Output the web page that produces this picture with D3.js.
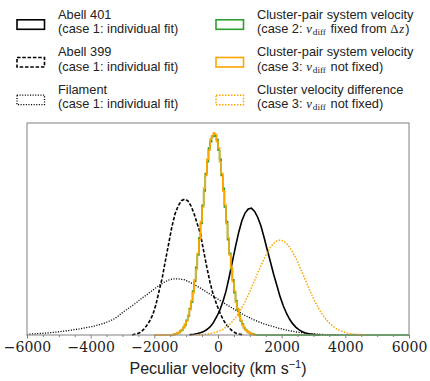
<!DOCTYPE html>
<html><head><meta charset="utf-8">
<script src="https://cdn.jsdelivr.net/npm/d3@7"></script>
<style>body{margin:0;background:#fff} svg{display:block}</style>
</head><body>
<svg id="chart" width="430" height="381"></svg>
<script>
// ---------- data (normalised histogram heights) ----------
const xTicks = [-6000, -4000, -2000, 0, 2000, 4000, 6000];
const xMinorTicks = [-5500,-5000,-4500,-3500,-3000,-2500,-1500,-1000,-500,500,1000,1500,2500,3000,3500,4500,5000,5500];
const xLabel = "Peculiar velocity (km s";

// Abell 401 (case 1) – first bin left edge, 100 km/s bins
const a401Start = -900;
const a401Values = [0.002,0.004,0.007,0.011,0.017,0.027,0.040,0.060,0.088,0.120,
  0.163,0.216,0.286,0.362,0.438,0.508,0.566,0.604,0.624,0.628,
  0.612,0.582,0.540,0.482,0.420,0.360,0.300,0.245,0.190,0.145,
  0.108,0.078,0.055,0.038,0.025,0.016,0.010,0.006,0.004,0.002,0.001];

// Abell 399 (case 1), 100 km/s bins
const a399Start = -2700;
const a399Values = [0.002,0.006,0.012,0.025,0.045,0.068,0.100,0.150,0.218,0.285,
  0.370,0.452,0.535,0.600,0.640,0.665,0.673,0.665,0.640,0.600,
  0.550,0.500,0.415,0.335,0.260,0.200,0.155,0.113,0.080,0.053,
  0.035,0.020,0.010,0.005,0.002];

// Filament (case 1), 100 km/s bins
const filStart = -6000;
const filValues = [0.004,0.005,0.006,0.007,0.008,0.009,0.010,0.012,0.013,0.015,
  0.017,0.019,0.021,0.023,0.025,0.028,0.030,0.033,0.036,0.039,
  0.042,0.046,0.050,0.055,0.060,0.066,0.073,0.081,0.092,0.105,
  0.117,0.128,0.139,0.150,0.162,0.175,0.187,0.198,0.210,0.222,
  0.234,0.245,0.255,0.265,0.272,0.277,0.278,0.278,0.276,0.273,
  0.266,0.258,0.250,0.241,0.232,0.222,0.212,0.202,0.193,0.183,
  0.172,0.162,0.152,0.143,0.133,0.124,0.115,0.106,0.097,0.089,
  0.081,0.074,0.067,0.061,0.055,0.050,0.045,0.041,0.036,0.032,
  0.028,0.024,0.021,0.018,0.015,0.013,0.011,0.009,0.007,0.006,
  0.005,0.004,0.003,0.002,0.002,0.001,0.001,0.001];

// Cluster-pair system velocity (case 2), 50 km/s bins
const sys2Start = -1400;
const sys2Range = [-1400, 6000];
const sys2Values = [0.003,0.005,0.009,0.011,0.019,0.025,0.038,0.050,0.073,0.094,
  0.131,0.163,0.218,0.265,0.335,0.396,0.481,0.552,0.643,0.714,
  0.800,0.858,0.926,0.958,0.982,0.985,0.986,0.968,0.915,0.870,
  0.790,0.726,0.634,0.562,0.472,0.405,0.326,0.274,0.210,0.170,
  0.125,0.099,0.069,0.054,0.036,0.027,0.017,0.013,0.008,0.006,0.003];

// Cluster-pair system velocity (case 3), 50 km/s bins
const sys3Start = -1400;
const sys3Range = [-2000, 1200];
const sys3Values = [0.003,0.006,0.008,0.013,0.017,0.027,0.036,0.054,0.069,0.099,
  0.125,0.170,0.210,0.274,0.326,0.405,0.472,0.562,0.634,0.726,
  0.790,0.870,0.915,0.970,0.986,1.000,0.994,0.958,0.926,0.858,
  0.800,0.714,0.644,0.551,0.482,0.396,0.335,0.264,0.218,0.163,
  0.131,0.094,0.073,0.050,0.038,0.025,0.019,0.011,0.008,0.004,0.003];

// Cluster velocity difference (case 3), 100 km/s bins
const diffStart = -700;
const diffValues = [0.001,0.002,0.003,0.005,0.007,0.010,0.015,0.021,0.028,0.039,
  0.051,0.067,0.086,0.109,0.135,0.165,0.198,0.233,0.270,0.308,
  0.344,0.379,0.409,0.435,0.454,0.466,0.470,0.466,0.454,0.435,
  0.409,0.379,0.344,0.308,0.270,0.233,0.198,0.165,0.135,0.109,
  0.086,0.067,0.051,0.039,0.028,0.021,0.015,0.010,0.007,0.005,
  0.003,0.002,0.001,0.001];

// ---------- layout ----------
const svg = d3.select("#chart");
const plot = {left: 27, right: 409, top: 123, bottom: 335};
const x = d3.scaleLinear().domain([-6000, 6000]).range([plot.left, plot.right]);
const y = d3.scaleLinear().domain([0, 1.05]).range([plot.bottom, plot.top]);

const series = [
  {start: a401Start, bin: 100, values: a401Values, smooth: true, color: "#000", width: 1.6, dash: null,
   label: ["Abell 401", "(case 1: individual fit)"]},
  {start: a399Start, bin: 100, values: a399Values, smooth: true, color: "#000", width: 1.6, dash: "3.5,1.8",
   label: ["Abell 399", "(case 1: individual fit)"]},
  {start: filStart, bin: 100, values: filValues, smooth: true, color: "#000", width: 1.3, dash: "1.1,1.5",
   label: ["Filament", "(case 1: individual fit)"]},
  {start: sys2Start, bin: 50, values: sys2Values, range: sys2Range, color: "#2ca02c", width: 1.6, dash: null,
   label: ["Cluster-pair system velocity", "(case 2:|@|fixed from|#)"]},
  {start: sys3Start, bin: 50, values: sys3Values, range: sys3Range, color: "#ffa500", width: 1.6, dash: null,
   label: ["Cluster-pair system velocity", "(case 3:|@|not fixed)"]},
  {start: diffStart, bin: 100, values: diffValues, smooth: true, color: "#ffa500", width: 1.5, dash: "1.5,1.5",
   label: ["Cluster velocity difference", "(case 3:|@|not fixed)"]}
];

function stepPoints(s) {
  const pts = [];
  const end = s.start + s.values.length * s.bin;
  if (s.range && s.range[0] < s.start) pts.push([s.range[0], 0]);
  pts.push([s.start, 0]);
  if (s.smooth) {
    s.values.forEach((v, i) => pts.push([s.start + (i + 0.5) * s.bin, v]));
  } else {
    s.values.forEach((v, i) => {
      pts.push([s.start + i * s.bin, v]);
      pts.push([s.start + (i + 1) * s.bin, v]);
    });
  }
  pts.push([end, 0]);
  if (s.range && s.range[1] > end) pts.push([s.range[1], 0]);
  return pts;
}
const line = d3.line().x(d => x(d[0])).y(d => y(d[1]));

const g = svg.append("g");
series.forEach(s => {
  g.append("path")
    .attr("d", line(stepPoints(s)))
    .attr("fill", "none")
    .attr("stroke", s.color)
    .attr("stroke-width", s.width)
    .attr("stroke-linejoin", "miter")
    .attr("stroke-dasharray", s.dash);
});

// frame
svg.append("rect")
  .attr("x", plot.left).attr("y", plot.top)
  .attr("width", plot.right - plot.left).attr("height", plot.bottom - plot.top)
  .attr("fill", "none").attr("stroke", "#808080").attr("stroke-width", 1);

// axes
const serif = "DejaVu Serif";
const mathSerif = "Liberation Serif";
const sans = "Liberation Sans";
const axMajor = svg.append("g").attr("transform", `translate(0,${plot.bottom})`)
  .call(d3.axisBottom(x).tickValues(xTicks).tickSizeInner(3.5).tickSizeOuter(0).tickPadding(4)
        .tickFormat(d3.format("d")));
axMajor.attr("font-family", serif).attr("font-size", 14);
axMajor.select(".domain").remove();
axMajor.selectAll(".tick line").attr("stroke", "#808080");
axMajor.selectAll(".tick text")
  .attr("font-family", serif).attr("font-size", 14).attr("fill", "#222");

const axMinor = svg.append("g").attr("transform", `translate(0,${plot.bottom})`)
  .call(d3.axisBottom(x).tickValues(xMinorTicks).tickSizeInner(2).tickSizeOuter(0).tickFormat(""));
axMinor.select(".domain").remove();
axMinor.selectAll(".tick line").attr("stroke", "#808080");

// x label
const xl = svg.append("text")
  .attr("x", (plot.left + plot.right) / 2).attr("y", 373.5)
  .attr("text-anchor", "middle")
  .attr("font-family", sans).attr("font-size", 16).attr("fill", "#222");
xl.append("tspan").text(xLabel);
xl.append("tspan").attr("dy", -6).attr("font-size", 11).text("\u22121");
xl.append("tspan").attr("dy", 6).text(")");

// legend
const legCols = [{hx: 17, tx: 58}, {hx: 216, tx: 257}];
const rowBase = [18.5, 56.2, 93.9];
const lineGap = 14.3;
const fs = 12.8;
const spaceW = 3.6;

function piece(xp, yp, txt, opts) {
  const t = svg.append("text").attr("x", xp).attr("y", yp)
    .attr("font-family", opts.family || sans).attr("font-size", opts.size || fs)
    .attr("fill", "#222").text(txt);
  if (opts.italic) t.attr("font-style", "italic");
  return t.node().getComputedTextLength();
}

series.forEach((s, i) => {
  const col = legCols[Math.floor(i / 3)];
  const b = rowBase[i % 3];
  svg.append("rect")
    .attr("x", col.hx).attr("y", b + 1.3).attr("width", 27.5).attr("height", 9.5)
    .attr("fill", "none").attr("stroke", s.color).attr("stroke-width", s.width)
    .attr("stroke-dasharray", s.dash);
  piece(col.tx, b, s.label[0], {});
  const yb = b + lineGap;
  let cx = col.tx;
  s.label[1].split("|").forEach((p, k, arr) => {
    const last = k === arr.length - 1;
    if (p === "@") {
      cx += piece(cx, yb, "v", {family: mathSerif, italic: true, size: fs}) + 1;
      cx += piece(cx, yb + 2, "diff", {family: mathSerif, size: 9.2}) + spaceW + 1;
    } else if (p.startsWith("#")) {
      cx += piece(cx, yb, "\u0394", {family: mathSerif, size: fs}) + 0.6;
      cx += piece(cx, yb, "z", {family: mathSerif, italic: true, size: fs}) + 1.2;
      cx += piece(cx, yb, p.slice(1), {});
    } else {
      cx += piece(cx, yb, p, {}) + (last ? 0 : spaceW);
    }
  });
});
</script>
</body></html>
